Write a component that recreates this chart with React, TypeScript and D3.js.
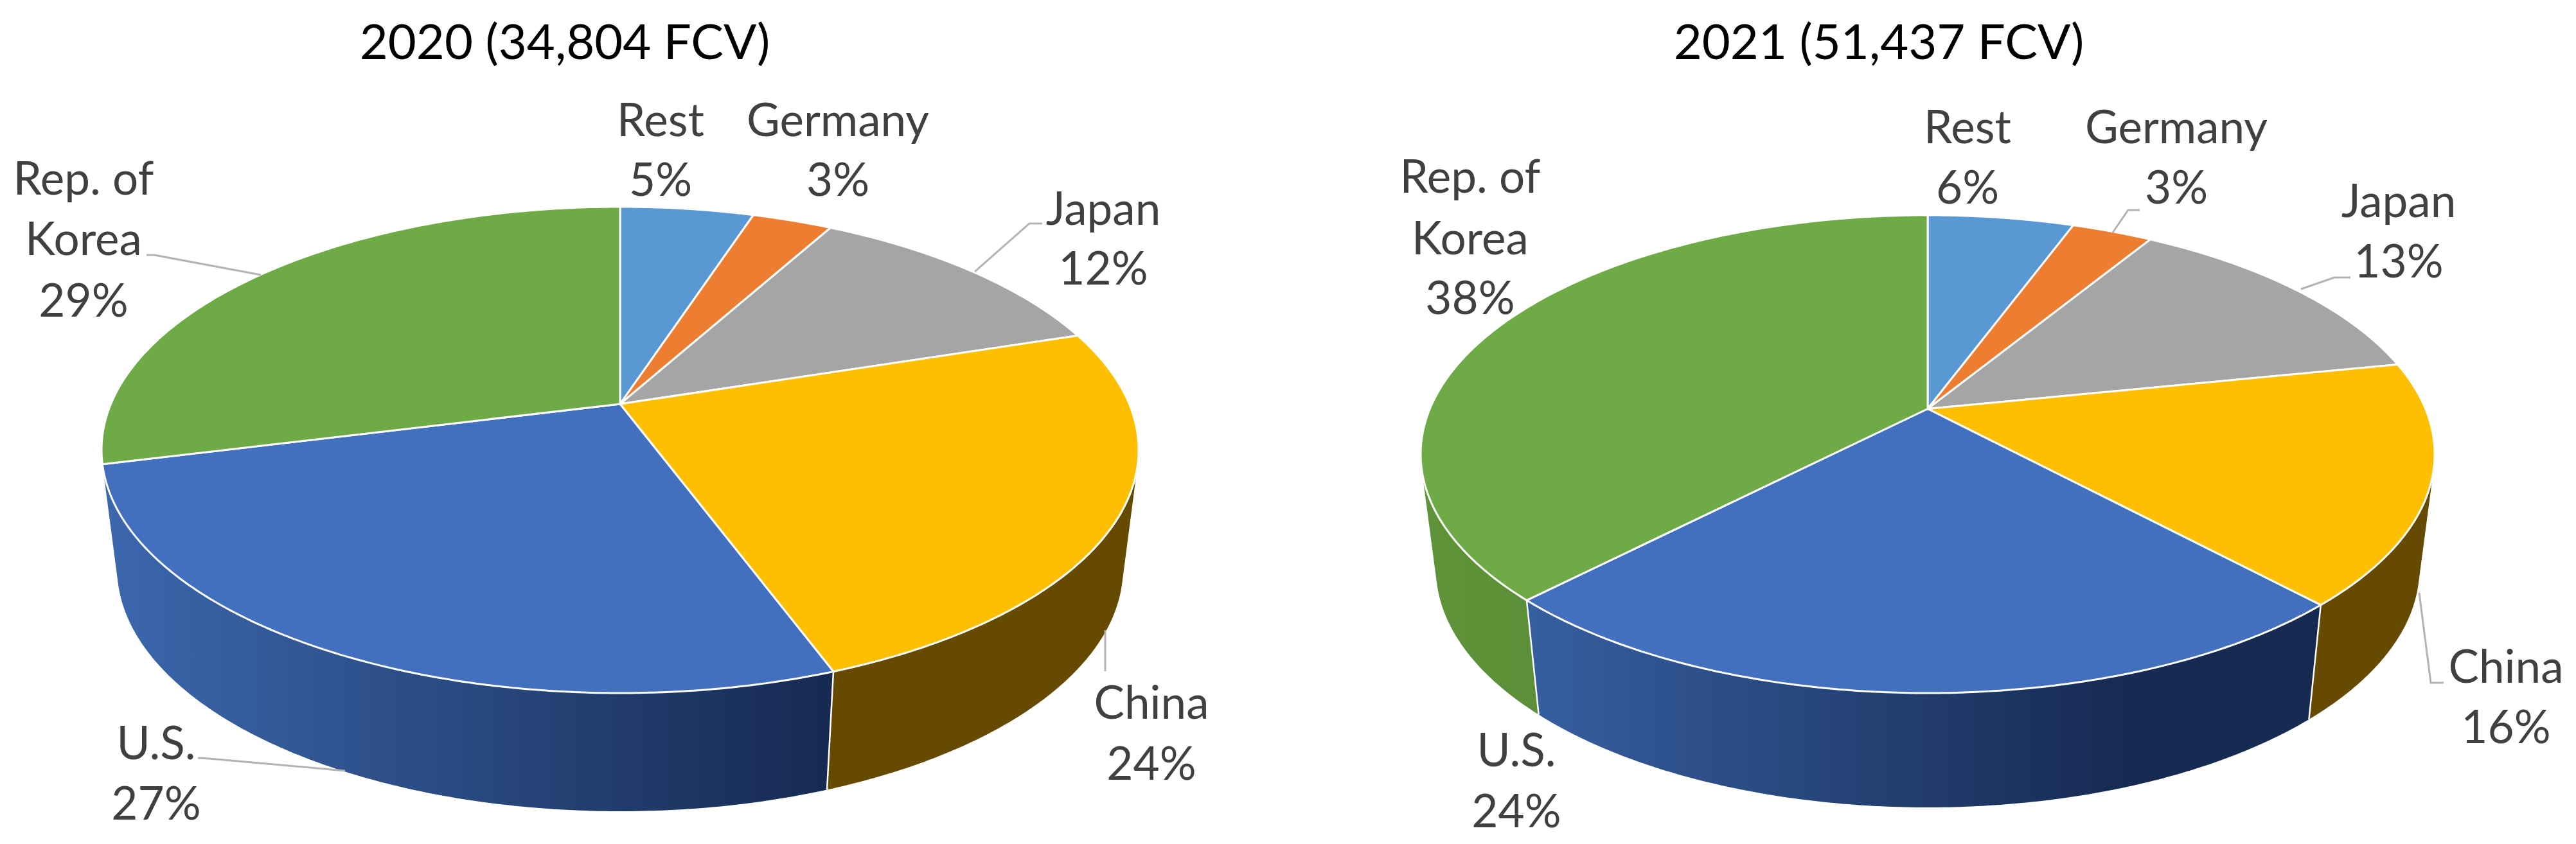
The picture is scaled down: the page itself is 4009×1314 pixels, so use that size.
import React from 'react';
import * as d3 from 'd3';

// share of FCV stock per country, clockwise from 12 o'clock
const categories = ['Rest', 'Germany', 'Japan', 'China', 'U.S.', 'Rep. of Korea'];
const values2020 = [5, 3, 12, 24.4, 26.66, 28.94];
const values2021 = [5.6, 3.1, 13.1, 16.3, 24.15, 37.75];
const percent2020 = ['5%', '3%', '12%', '24%', '27%', '29%'];
const percent2021 = ['6%', '3%', '13%', '16%', '24%', '38%'];

const topColors = ['#5a98d3', '#ed7d31', '#a5a5a5', '#fdbf00', '#4270be', '#6eaa45'];
const sideFrom = ['#5a98d3', '#ed7d31', '#a5a5a5', '#654a00', '#3c68ae', '#5f9339'];
const sideTo = ['#5a98d3', '#ed7d31', '#a5a5a5', '#654a00', '#162a52', '#4a7a2c'];

const FONT = 'Lato, "Open Sans", sans-serif';

type Pt = [number, number];

const pies = [
  {
    id: 'y2020',
    title: '2020 (34,804 FCV)',
    titleX: 879,
    values: values2020,
    percents: percent2020,
    cx: 965,
    cy: 629,
    halfW: 807,
    up: 307,
    down: 450,
    drop: 184,
    labels: [
      { x: 1028, lines: [212, 305] },
      { x: 1304, lines: [212, 305] },
      { x: 1717, lines: [350, 443] },
      { x: 1792, lines: [1119, 1214] },
      { x: 243, lines: [1182, 1276] },
      { x: 130, lines: [303, 397, 493] },
    ],
    leaders: [
      [[1622, 348], [1602, 348], [1517, 423]],
      [[1720, 981], [1720, 1045]],
      [[308, 1180], [325, 1181], [537, 1200]],
      [[228, 397], [240, 397], [406, 428]],
    ] as Pt[][],
  },
  {
    id: 'y2021',
    title: '2021 (51,437 FCV)',
    titleX: 2924,
    values: values2021,
    percents: percent2021,
    cx: 3000,
    cy: 636.5,
    halfW: 789,
    up: 301.5,
    down: 442.5,
    drop: 178,
    labels: [
      { x: 3062, lines: [223, 317] },
      { x: 3387, lines: [223, 317] },
      { x: 3733, lines: [338, 432] },
      { x: 3900, lines: [1063, 1157] },
      { x: 2360, lines: [1193, 1288] },
      { x: 2288, lines: [300, 396, 489] },
    ],
    leaders: [
      [[3330, 327], [3312, 327], [3288, 362]],
      [[3658, 432], [3633, 432], [3581, 450]],
      [[3765, 923], [3783, 1063], [3803, 1063]],
    ] as Pt[][],
  },
];

const linePath = d3.line<Pt>();

function Pie3D({ cfg }: { cfg: (typeof pies)[number] }) {
  // perspective disc: the pie centre sits above the middle of the ellipse
  const k = (cfg.down - cfg.up) / (cfg.down + cfg.up);
  const A = cfg.halfW * Math.sqrt(1 - k * k);
  const B = cfg.up * (1 + k);
  const shrink = 0.97;

  const top = (a: number): Pt => {
    const den = 1 + k * Math.cos(a);
    return [cfg.cx + (A * Math.sin(a)) / den, cfg.cy - (B * Math.cos(a)) / den];
  };
  const bottom = (a: number): Pt => {
    const [x, y] = top(a);
    return [cfg.cx + (x - cfg.cx) * shrink, y + cfg.drop];
  };
  const facing = (a: number) => {
    const p = top(a);
    const q = top(a + 0.001);
    const b = bottom(a);
    return (q[0] - p[0]) * (b[1] - p[1]) - (q[1] - p[1]) * (b[0] - p[0]) < 0;
  };

  const arcs = d3.pie<number>().sort(null)(cfg.values);
  const sample = (a0: number, a1: number) => {
    const steps = 160;
    const s = d3.scaleLinear().domain([0, steps]).range([a0, a1]);
    return d3.range(steps + 1).map((i) => s(i));
  };

  // walls: hull of both rims, painted from the sides towards the front slice
  const walls = arcs
    .map((d, i) => ({ d, i }))
    .filter(({ d }) => sample(d.startAngle, d.endAngle).some(facing))
    .sort((a, b) => {
      const dist = (v: typeof a) => Math.abs((v.d.startAngle + v.d.endAngle) / 2 - Math.PI);
      return dist(b) - dist(a);
    });

  return (
    <g>
      <defs>
        {walls.map(({ i }) => (
          <linearGradient
            key={i}
            id={`${cfg.id}-side-${i}`}
            gradientUnits="userSpaceOnUse"
            x1={cfg.cx - cfg.halfW}
            x2={cfg.cx + cfg.halfW * 0.4}
            y1={0}
            y2={0}
          >
            <stop offset="0" stopColor={sideFrom[i]} />
            <stop offset="1" stopColor={sideTo[i]} />
          </linearGradient>
        ))}
      </defs>

      {walls.map(({ d, i }) => {
        const angles = sample(d.startAngle, d.endAngle);
        const hull = d3.polygonHull([...angles.map(top), ...angles.map(bottom)]) as Pt[];
        return <path key={i} d={`${linePath(hull)}Z`} fill={`url(#${cfg.id}-side-${i})`} />;
      })}
      {arcs
        .filter((d) => facing(d.startAngle))
        .map((d, i) => (
          <path
            key={i}
            d={linePath([top(d.startAngle), bottom(d.startAngle)]) as string}
            stroke="#fff"
            strokeWidth={2.5}
            fill="none"
          />
        ))}

      {arcs.map((d, i) => {
        const rim = sample(d.startAngle, d.endAngle).map(top);
        return (
          <path
            key={i}
            d={`${linePath([[cfg.cx, cfg.cy], ...rim])}Z`}
            fill={topColors[i]}
            stroke="#fff"
            strokeWidth={3}
            strokeLinejoin="round"
          />
        );
      })}

      {cfg.leaders.map((pts, i) => (
        <path key={i} d={linePath(pts) as string} fill="none" stroke="#b3b3b3" strokeWidth={3} />
      ))}

      <text x={cfg.titleX} y={92} textAnchor="middle" fontFamily={FONT} fontSize={76} fill="#000">
        {cfg.title}
      </text>

      {cfg.labels.map((lab, i) => {
        const name = categories[i] === 'Rep. of Korea' ? ['Rep. of', 'Korea'] : [categories[i]];
        const rows = [...name, cfg.percents[i]];
        return (
          <text key={i} textAnchor="middle" fontFamily={FONT} fontSize={71} fill="#404040">
            {rows.map((r, j) => (
              <tspan key={j} x={lab.x} y={lab.lines[j]}>
                {r}
              </tspan>
            ))}
          </text>
        );
      })}
    </g>
  );
}

export default function App() {
  return (
    <svg width={4009} height={1314} style={{ position: 'absolute', left: 0, top: 0, display: 'block' }}>
      <rect width={4009} height={1314} fill="#fff" />
      {pies.map((p) => (
        <Pie3D key={p.id} cfg={p} />
      ))}
    </svg>
  );
}
